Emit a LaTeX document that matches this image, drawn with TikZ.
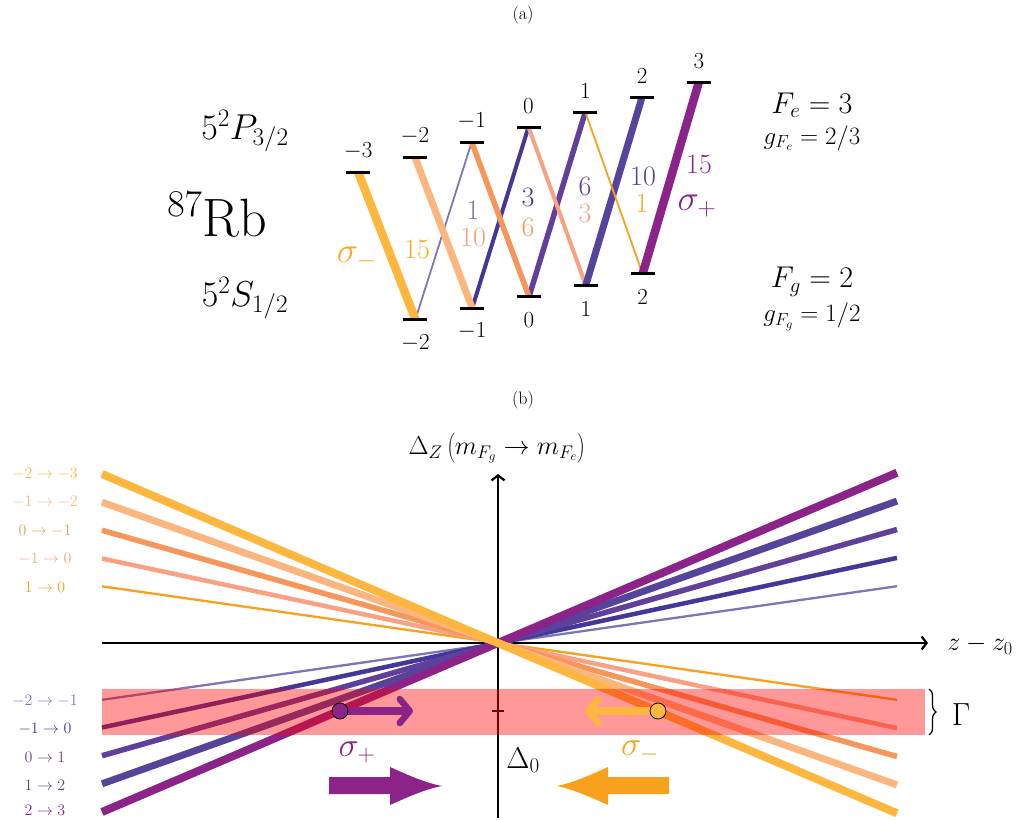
\RequirePackage{fix-cm}
\documentclass[tikz,border=0pt]{standalone}
\usetikzlibrary{arrows.meta,decorations.pathreplacing}
\definecolor{cYel}{HTML}{FDB73F}
\definecolor{cLOr}{HTML}{FBB57E}
\definecolor{cOr}{HTML}{F6965A}
\definecolor{cSal}{HTML}{F8A283}
\definecolor{cTOr}{HTML}{F8A11D}
\definecolor{cLBl}{HTML}{7B76B8}
\definecolor{cDBl}{HTML}{443797}
\definecolor{cPur}{HTML}{613F9C}
\definecolor{cBPu}{HTML}{56449B}
\definecolor{cMag}{HTML}{8B2388}
\definecolor{cTxtOr}{HTML}{F9A82A}
\definecolor{cTxtTen}{HTML}{F5A07D}
\begin{document}
\begin{tikzpicture}[x=1pt,y=-1pt,
  levelbar/.style={line width=3pt,black},
  lvl/.style={font=\fontsize{23}{27}\selectfont,inner sep=0pt},
  num/.style={font=\fontsize{28}{32}\selectfont,inner sep=0pt},
  sig/.style={font=\fontsize{36}{40}\selectfont,inner sep=0pt},
  sigb/.style={font=\fontsize{34}{38}\selectfont,inner sep=0pt},
  blab/.style={font=\fontsize{16}{19}\selectfont,inner sep=0pt},
  axis/.style={line width=2.2pt,black,-{Straight Barb[length=5pt,width=13pt]}},
  marker/.style={circle,draw=black,line width=0.8pt,minimum size=16pt,inner sep=0pt},
  small arrow/.style={line width=7.5pt,-{Straight Barb[length=10pt,width=24pt,line width=6.5pt,round]}},
]
\useasboundingbox (0,0) rectangle (1016,819);

% ---------------- panel (a) ----------------
\node[font=\fontsize{18}{21}\selectfont] (la) at (523,15) {(a)};

\foreach \n/\m in {m3/-3,m2/-2,m1/-1,0/0,p1/1,p2/2,p3/3}{
  \coordinate (e\n) at ({528.5+56.8*\m},{127-15*\m});
}
\foreach \n/\m in {m2/-2,m1/-1,0/0,p1/1,p2/2}{
  \coordinate (g\n) at ({529+56.8*\m},{296.7-11.4*\m});
}

% transitions
\draw[line width=1.8pt,cLBl] (gm2) -- (em1);
\draw[line width=8.5pt,cYel] (gm2) -- (em3);
\draw[line width=4pt,cDBl] (gm1) -- (e0);
\draw[line width=7pt,cLOr] (gm1) -- (em2);
\draw[line width=5.5pt,cPur] (g0) -- (ep1);
\draw[line width=5.5pt,cOr] (g0) -- (em1);
\draw[line width=4pt,cSal] (gp1) -- (e0);
\draw[line width=7pt,cBPu] (gp1) -- (ep2);
\draw[line width=1.8pt,cTOr] (gp2) -- (ep1);
\draw[line width=8.5pt,cMag] (gp2) -- (ep3);

% level bars and labels
\foreach \n/\m in {m3/-3,m2/-2,m1/-1,0/0,p1/1,p2/2,p3/3}{
  \draw[levelbar] ([xshift=-12pt]e\n) -- ([xshift=12pt]e\n);
  \node[lvl] (le\n) at ({528.5+56.8*\m},{106-15*\m}) {$\m$};
}
\foreach \n/\m in {m2/-2,m1/-1,0/0,p1/1,p2/2}{
  \draw[levelbar] ([xshift=-12pt]g\n) -- ([xshift=12pt]g\n);
  \node[lvl] (lg\n) at ({529+56.8*\m},{320-11.4*\m}) {$\m$};
}

% strengths
\node[num,text=cTxtOr] (s1) at (417,249) {15};
\node[sig,text=cTxtOr] (sm) at (357,258) {$\sigma_-$};
\node[num,text=cLBl] (s2) at (473,210) {1};
\node[num,text=cTxtTen] (s3) at (473,237) {10};
\node[num,text=cDBl] (s4) at (528,197) {3};
\node[num,text=cOr] (s5) at (528,227) {6};
\node[num,text=cPur] (s6) at (585,186) {6};
\node[num,text=cSal] (s7) at (585,213) {3};
\node[num,text=cBPu] (s8) at (643,176) {10};
\node[num,text=cTxtOr] (s9) at (642,203) {1};
\node[num,text=cMag] (s10) at (699,164) {15};
\node[sig,text=cMag] (sp) at (697,206) {$\sigma_+$};

% left / right labels
\node[font=\fontsize{36}{40}\selectfont] (P) at (245,131) {$5^2P_{3/2}$};
\node[font=\fontsize{54}{60}\selectfont] (Rb) at (217,215) {$^{87}$Rb};
\node[font=\fontsize{36}{40}\selectfont] (S) at (245,298) {$5^2S_{1/2}$};
\node[font=\fontsize{30}{34}\selectfont] (Fe) at (812,105) {$F_e=3$};
\node[font=\fontsize{25}{29}\selectfont] (gFe) at (812,138) {$g_{F_e}=2/3$};
\node[font=\fontsize{30}{34}\selectfont] (Fg) at (812,282) {$F_g=2$};
\node[font=\fontsize{25}{29}\selectfont] (gFg) at (812,317) {$g_{F_g}=1/2$};

% ---------------- panel (b) ----------------
\node[font=\fontsize{18}{21}\selectfont] (lbb) at (523,400) {(b)};

\coordinate (xs) at (102,643);
\coordinate (xe) at (928,643);
\coordinate (ys) at (498,818);
\coordinate (ye) at (498,474);
\draw[axis] (xs) -- (xe);
\draw[axis] (ys) -- (ye);

% purple lines (sigma+)
\coordinate (pL1) at (102,699.8); \coordinate (pR1) at (897,586.2);
\coordinate (pL2) at (102,727.5); \coordinate (pR2) at (897,557.9);
\coordinate (pL3) at (102,755.7); \coordinate (pR3) at (897,529.5);
\coordinate (pL4) at (102,783.8); \coordinate (pR4) at (897,501.1);
\coordinate (pL5) at (102,812.0); \coordinate (pR5) at (897,472.7);
\draw[line width=2.3pt,cLBl] (pL1) -- (pR1);
\draw[line width=4.5pt,cDBl] (pL2) -- (pR2);
\draw[line width=5.5pt,cPur] (pL3) -- (pR3);
\draw[line width=7pt,cBPu] (pL4) -- (pR4);
\draw[line width=8pt,cMag] (pL5) -- (pR5);

% orange lines (sigma-)
\coordinate (oL1) at (102,586.3); \coordinate (oR1) at (897,699.8);
\coordinate (oL2) at (102,558.5); \coordinate (oR2) at (897,728.1);
\coordinate (oL3) at (102,530.3); \coordinate (oR3) at (897,756.5);
\coordinate (oL4) at (102,502.2); \coordinate (oR4) at (897,784.9);
\coordinate (oL5) at (102,474.0); \coordinate (oR5) at (897,813.3);
\draw[line width=2.3pt,cTOr] (oL1) -- (oR1);
\draw[line width=4.5pt,cSal] (oL2) -- (oR2);
\draw[line width=5.5pt,cOr] (oL3) -- (oR3);
\draw[line width=7pt,cLOr] (oL4) -- (oR4);
\draw[line width=8pt,cYel] (oL5) -- (oR5);

% labels on the left
\node[blab,text=cYel] (t1) at (45,474) {$-2\rightarrow-3$};
\node[blab,text=cLOr] (t2) at (45,502) {$-1\rightarrow-2$};
\node[blab,text=cOr] (t3) at (45,531) {$0\rightarrow-1$};
\node[blab,text=cSal] (t4) at (45,559) {$-1\rightarrow0$};
\node[blab,text=cTOr] (t5) at (45,587) {$1\rightarrow0$};
\node[blab,text=cLBl] (t6) at (45,701) {$-2\rightarrow-1$};
\node[blab,text=cDBl] (t7) at (45,729) {$-1\rightarrow0$};
\node[blab,text=cPur] (t8) at (45,757) {$0\rightarrow1$};
\node[blab,text=cBPu] (t9) at (45,785) {$1\rightarrow2$};
\node[blab,text=cMag] (t10) at (45,810) {$2\rightarrow3$};

% tick
\coordinate (tk1) at (492,711); \coordinate (tk2) at (504,711);
\draw[line width=1.5pt] (tk1) -- (tk2);

% band
\fill[red,opacity=0.4] (102,689) rectangle (925,735);

% brace and Gamma
\coordinate (br1) at (929,689); \coordinate (br2) at (929,735);
\draw[decorate,decoration={brace,amplitude=7pt},line width=1.3pt] (br1) -- (br2);
\node[font=\fontsize{32}{36}\selectfont] (G) at (961,715) {$\Gamma$};

% axis labels
\node[font=\fontsize{26}{30}\selectfont] (yl) at (497,448) {$\Delta_Z\left(m_{F_g}\rightarrow m_{F_e}\right)$};
\node[font=\fontsize{26}{30}\selectfont] (xl) at (980,645) {$z-z_0$};
\node[font=\fontsize{30}{34}\selectfont] (D0) at (523,760) {$\Delta_0$};

% markers with small arrows
\coordinate (pa) at (413,711);
\draw[small arrow,cMag] (340,711) -- (pa);
\node[marker,fill=cMag] (pc) at (340,711) {};
\coordinate (oa) at (585,711);
\draw[small arrow,cYel] (658,711) -- (oa);
\node[marker,fill=cYel] (oc) at (658,711) {};

% sigma labels and big arrows
\node[sigb,text=cMag] (spb) at (357,752) {$\sigma_+$};
\node[sigb,text=cTOr] (smb) at (640,752) {$\sigma_-$};
\fill[cMag] (329,777) -- (390,777) -- (390,767) .. controls (410,776) and (426,783) .. (442,786)
  .. controls (426,789) and (410,796) .. (390,805) -- (390,794) -- (329,794) -- cycle;
\fill[cTOr] (669,777) -- (608,777) -- (608,767) .. controls (588,776) and (572,783) .. (557,786)
  .. controls (572,789) and (588,796) .. (608,805) -- (608,794) -- (669,794) -- cycle;
\end{tikzpicture}
\end{document}
